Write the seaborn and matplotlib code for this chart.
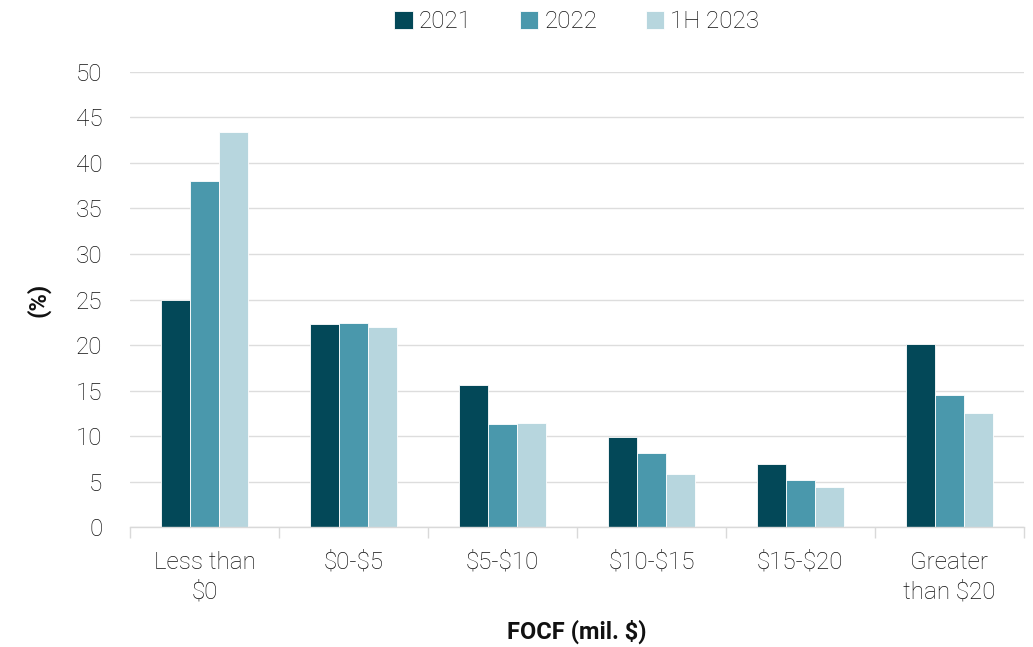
import matplotlib
matplotlib.use("Agg")
import matplotlib.pyplot as plt
import seaborn as sns
import numpy as np
import pandas as pd

# Data
categories = ["Less than\n\\$0", "\\$0-\\$5", "\\$5-\\$10", "\\$10-\\$15", "\\$15-\\$20", "Greater\nthan \\$20"]
years = ["2021", "2022", "1H 2023"]
values_2021 = [25.0, 22.3, 15.6, 9.9, 6.9, 20.1]
values_2022 = [38.0, 22.4, 11.3, 8.2, 5.2, 14.5]
values_1h2023 = [43.4, 22.0, 11.4, 5.9, 4.4, 12.6]
colors = ["#034858", "#4a98ac", "#b7d6de"]

df = pd.DataFrame({
    "category": categories * 3,
    "year": [y for y in years for _ in categories],
    "value": values_2021 + values_2022 + values_1h2023,
})

sns.set_theme(style="white")
plt.rcParams["font.family"] = ["Roboto", "DejaVu Sans"]
plt.rcParams["font.weight"] = "light"

fig, ax = plt.subplots(figsize=(10.33, 6.47), dpi=100)
fig.subplots_adjust(left=0.126, right=0.991, top=0.889, bottom=0.185)

sns.barplot(data=df, x="category", y="value", hue="year", order=categories,
            hue_order=years, palette=colors, saturation=1, width=0.585,
            edgecolor="white", linewidth=0.6, ax=ax)

ax.set_ylim(0, 50)
ax.set_yticks(np.arange(0, 51, 5))
ax.set_xlim(-0.5, len(categories) - 0.5)
ax.yaxis.grid(True, color="#dddddd", linewidth=1)
ax.set_axisbelow(True)

for side in ["top", "right", "left"]:
    ax.spines[side].set_visible(False)
ax.spines["bottom"].set_color("#d9d9d9")
ax.spines["bottom"].set_linewidth(1)

# ticks between categories
ax.set_xticks(np.arange(-0.5, len(categories), 1), minor=True)
ax.tick_params(axis="x", which="minor", length=8, color="#d9d9d9", width=1, bottom=True)
ax.tick_params(axis="x", which="major", length=0, pad=17, labelsize=17.5, labelcolor="#111111")
ax.tick_params(axis="y", length=0, pad=20, labelsize=17.5, labelcolor="#111111")
for lbl in ax.get_xticklabels():
    lbl.set_linespacing(1.35)

ax.set_xlabel("FOCF (mil. \\$)", fontsize=17, fontweight="bold", labelpad=12, color="#111111")
ax.set_ylabel("(%)", fontsize=17, fontweight="bold", labelpad=18, color="#111111")

ax.legend(loc="center", bbox_to_anchor=(0.5, 1.11), ncol=3, frameon=False,
          fontsize=17.5, handlelength=0.75, handleheight=0.75, handletextpad=0.25,
          columnspacing=2.0, labelcolor="#111111")

fig.savefig("out.png", dpi=100)
